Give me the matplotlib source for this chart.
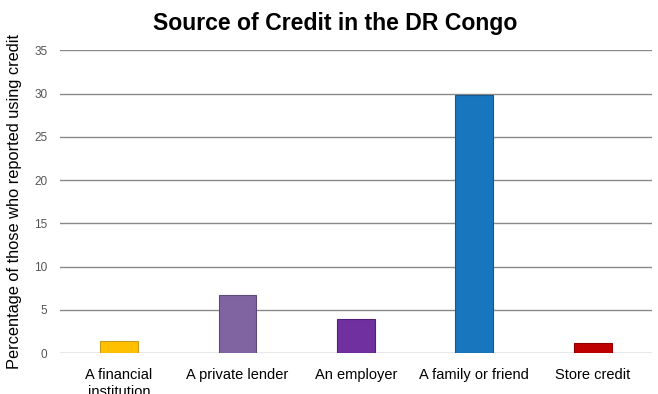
import matplotlib.pyplot as plt
import numpy as np

plt.rcParams['font.family'] = ['Liberation Sans', 'DejaVu Sans']

categories = ['A financial\ninstitution', 'A private lender', 'An employer',
              'A family or friend', 'Store credit']
values = [1.4, 6.7, 3.9, 29.9, 1.2]
colors = ['#FFC000', '#8064A2', '#7030A0', '#1776BD', '#C00000']
edges = ['#C89A20', '#5E4A7A', '#512078', '#125A90', '#8E0000']
yticks = [0, 5, 10, 15, 20, 25, 30, 35]

fig = plt.figure(figsize=(6.58, 3.94), dpi=100)
ax = fig.add_axes([0.091, 0.104, 0.9, 0.768])

x = np.arange(len(categories))
ax.bar(x, values, width=0.32, color=colors, edgecolor=edges, linewidth=0.8, zorder=3)

ax.set_xlim(-0.5, len(categories) - 0.5)
ax.set_ylim(0, 35)
ax.set_yticks(yticks)
ax.yaxis.grid(True, color='#8a8a8a', linewidth=1.0, zorder=0)
for s in ax.spines.values():
    s.set_visible(False)
ax.tick_params(axis='y', length=0, labelsize=8.5, colors='#555555', pad=9)
ax.tick_params(axis='x', length=0, labelsize=10.5, pad=11)
ax.set_xticks(x)
ax.set_xticklabels(categories, linespacing=1.25, va='top')
ax.set_ylabel('Percentage of those who reported using credit', fontsize=11.8, labelpad=9)

# the bottom line of the first label runs off the canvas, as in the original export
fig.suptitle('Source of Credit in the DR Congo', fontsize=16.6, fontweight='bold',
             x=0.51, y=0.97)

fig.savefig('out.png', dpi=100)
